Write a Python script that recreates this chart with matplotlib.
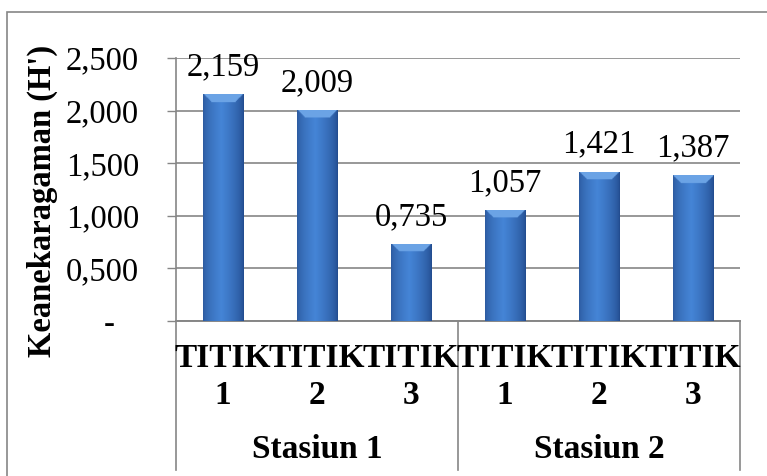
import numpy as np
import matplotlib

matplotlib.use("Agg")
import matplotlib.pyplot as plt
import matplotlib.transforms as mtransforms
from matplotlib.patches import Rectangle

# data
points = ["TITIK\n1", "TITIK\n2", "TITIK\n3", "TITIK\n1", "TITIK\n2", "TITIK\n3"]
stations = ["Stasiun 1", "Stasiun 2"]
points_per_station = 3
diversity = [2.159, 2.009, 0.735, 1.057, 1.421, 1.387]
y_ticks = [0.0, 0.5, 1.0, 1.5, 2.0, 2.5]
y_label = "Keanekaragaman (H')"

SERIF = "Liberation Serif"
GRID = "#868686"
DPI = 100
W, H = 767, 476


def fmt(v):
    if v == 0:
        return "-   "
    return f"{v:.3f}".replace(".", ",")


def bar_image(ny, nx, h_px, w_px, bevel_px=8):
    # horizontal gradient dark -> light -> dark, with a lighter bevel on top
    u = np.linspace(0, 1, nx)
    dark_l = np.array([0.17, 0.35, 0.62])
    light = np.array([0.27, 0.52, 0.84])
    dark_r = np.array([0.13, 0.29, 0.55])
    img = np.zeros((ny, nx, 3))
    for i, uu in enumerate(u):
        if uu < 0.45:
            t = (uu / 0.45) ** 0.6
            c = dark_l + (light - dark_l) * t
        else:
            t = ((1 - uu) / 0.55) ** 0.6
            c = dark_r + (light - dark_r) * t
        img[:, i] = c
    top = np.linspace(0, h_px, ny)  # distance from top in px (row 0 = top)
    xs = u * w_px
    bevel = np.array([0.42, 0.64, 0.90])
    for r, d in enumerate(top):
        if d < bevel_px:
            inside = (np.minimum(xs, w_px - xs) > d)
            img[r, inside] = bevel
    return img


fig = plt.figure(figsize=(W / DPI, H / DPI), dpi=DPI)
ax = fig.add_axes([176 / W, 1 - 321 / H, (740 - 176) / W, (321 - 58) / H])

x = np.arange(len(diversity))
bars = ax.bar(x, diversity, width=0.43, color="#3a6fc0", zorder=3)

ax.set_xlim(-0.5, len(diversity) - 0.5)
ax.set_ylim(0, 2.5)

px_per_unit = (321 - 58) / 2.5
for b in bars:
    bx, by = b.get_x(), b.get_y()
    bw, bh = b.get_width(), b.get_height()
    h_px = bh * px_per_unit
    w_px = 40
    img = bar_image(200, 80, h_px, w_px)
    im = ax.imshow(img, extent=(bx, bx + bw, by, by + bh), aspect="auto",
                   zorder=4, interpolation="bilinear")
    im.set_clip_path(b)
    ax.annotate(fmt(b.get_height()), (bx + bw / 2, by + bh), xytext=(0, 13.5),
                textcoords="offset points", ha="center", va="baseline",
                fontsize=23.5, family=SERIF, color="black")

ax.set_xlim(-0.5, len(diversity) - 0.5)
ax.set_ylim(0, 2.5)

ax.set_yticks(y_ticks)
ax.set_yticklabels([fmt(v) for v in y_ticks], family=SERIF, fontsize=23.5)
ax.tick_params(axis="y", direction="out", length=6.5, width=1, color=GRID, pad=20)
ax.yaxis.grid(True, color=GRID, linewidth=1.2, zorder=0)
ax.set_axisbelow(True)

ax.set_xticks([])
for side in ("top", "right"):
    ax.spines[side].set_visible(False)
for side in ("left", "bottom"):
    ax.spines[side].set_color(GRID)
    ax.spines[side].set_linewidth(1.2)

# multi-level category axis
trans = mtransforms.blended_transform_factory(ax.transData, ax.transAxes)
depth = -(470 - 321) / (321 - 58)
for sx in [-0.5, points_per_station - 0.5, len(diversity) - 0.5]:
    ax.plot([sx, sx], [0, depth], transform=trans, color=GRID, lw=1.2, clip_on=False)
ax.plot([-0.5, len(diversity) - 0.5], [0, 0], transform=trans, color=GRID, lw=1.2,
        clip_on=False)

for i, lab in enumerate(points):
    ax.text(i, -(377 - 321) / (321 - 58), lab, transform=trans, ha="center", va="center",
            family=SERIF, fontsize=24, fontweight="bold", linespacing=1.25)
for k, st in enumerate(stations):
    cx = k * points_per_station + (points_per_station - 1) / 2
    ax.text(cx, -(449 - 321) / (321 - 58), st, transform=trans, ha="center", va="center",
            family=SERIF, fontsize=24, fontweight="bold")

ax.set_ylabel(y_label, family=SERIF, fontsize=23.5, fontweight="bold", va="center")
ax.yaxis.set_label_coords((42 - 176) / (740 - 176), (321 - 201) / (321 - 58))

# chart area border
fig.patches.append(Rectangle((7 / W, -0.1), 1.2, 1 - 12 / H + 0.1, transform=fig.transFigure,
                             fill=False, edgecolor=GRID, linewidth=1.2))

fig.savefig("out.png", dpi=DPI)
